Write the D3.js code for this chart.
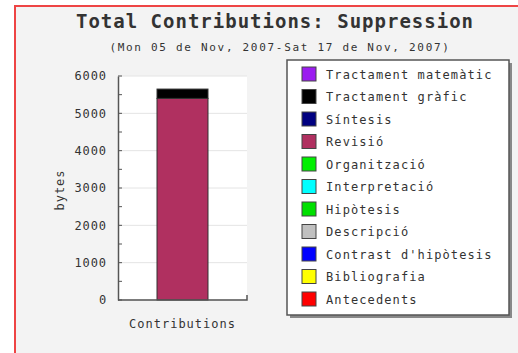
<!DOCTYPE html>
<html><head><meta charset="utf-8">
<script src="https://cdn.jsdelivr.net/npm/d3@7"></script>
<style>
body{margin:0;background:#fff;}
svg{display:block;}
text{font-family:"DejaVu Sans Mono",monospace;fill:#333;}
</style></head>
<body>
<script>
const title = "Total Contributions: Suppression";
const subtitle = "(Mon 05 de Nov, 2007-Sat 17 de Nov, 2007)";
const categories = ["Contributions"];
const seriesNames = ["Antecedents","Bibliografia","Contrast d'hipòtesis","Descripció","Hipòtesis","Interpretació","Organització","Revisió","Síntesis","Tractament gràfic","Tractament matemàtic"];
const seriesColors = ["#ff0000","#ffff00","#0000ff","#c0c0c0","#00e000","#00ffff","#00f000","#b03060","#000080","#000000","#9b1cf0"];
const seriesValues = [0,0,0,0,0,0,0,5400,0,250,0];
const yTicks = [0,1000,2000,3000,4000,5000,6000];
const yLabel = "bytes";

const W=518,H=353;
const svg=d3.select("body").append("svg").attr("width",W).attr("height",H);
// frame
svg.append("rect").attr("x",15).attr("y",6).attr("width",W+10).attr("height",H+10)
  .attr("fill","#f3f3f3").attr("stroke","#ee4444").attr("stroke-width",2);

svg.append("text").attr("x",275).attr("y",28).attr("text-anchor","middle")
  .style("font-size","19px").style("font-weight","bold").style("letter-spacing","1px").attr("fill","#222").text(title);
svg.append("text").attr("x",280).attr("y",51).attr("text-anchor","middle")
  .style("font-size","11px").style("letter-spacing","1.7px").text(subtitle);

const pl=118,pr=247,pt=76,pb=300;
const y=d3.scaleLinear().domain([0,6000]).range([pb,pt]);
const x=d3.scaleBand().domain(categories).range([pl,pr]).paddingInner(0).paddingOuter(0.765);

svg.append("rect").attr("x",pl).attr("y",pt).attr("width",pr-pl).attr("height",pb-pt).attr("fill","#fff");
// gridlines
svg.append("g").selectAll("line").data(yTicks).join("line")
  .attr("x1",pl).attr("x2",pr).attr("y1",d=>y(d)).attr("y2",d=>y(d))
  .attr("stroke","#e4e4e4").attr("stroke-width",1);

// stacked bar
const row={cat:categories[0]};
seriesNames.forEach((n,i)=>row[n]=seriesValues[i]);
const stack=d3.stack().keys(seriesNames)([row]);
svg.append("g").selectAll("rect").data(stack.filter(s=>s[0][1]-s[0][0]>0)).join("rect")
  .attr("x",x(categories[0])).attr("width",x.bandwidth())
  .attr("y",d=>y(d[0][1])).attr("height",d=>y(d[0][0])-y(d[0][1]))
  .attr("fill",d=>seriesColors[seriesNames.indexOf(d.key)])
  .attr("stroke","#333").attr("stroke-width",1);

// left axis
const ya=d3.axisLeft(y).tickValues(yTicks).tickSize(0).tickPadding(11).tickFormat(d3.format("d"));
const ga=svg.append("g").attr("transform",`translate(${pl},0)`).call(ya);
ga.select(".domain").attr("stroke","#555").attr("stroke-width",1.5);
ga.selectAll("text").style("font-size","12px").style("letter-spacing","0.9px").attr("fill","#333");
// minor inside ticks
svg.append("g").selectAll("line").data(d3.range(0,6001,500)).join("line")
  .attr("x1",pl).attr("x2",pl+4).attr("y1",d=>y(d)).attr("y2",d=>y(d))
  .attr("stroke","#555").attr("stroke-width",1);
// bottom axis
const xa=d3.axisBottom(x).tickSize(0).tickPadding(19);
const gx=svg.append("g").attr("transform",`translate(0,${pb})`).call(xa);
gx.select(".domain").attr("stroke","#555").attr("stroke-width",1.5).attr("d",`M${pl},0H${pr}V-5`);
gx.selectAll("text").style("font-size","12px").style("letter-spacing","1px").attr("fill","#333");

svg.append("text").attr("transform",`translate(64,190) rotate(-90)`).attr("text-anchor","middle")
  .style("font-size","12px").style("letter-spacing","1px").text(yLabel);

// legend
const lx=287,ly=60,lw=222,lh=255;
svg.append("rect").attr("x",lx+3).attr("y",ly+3).attr("width",lw).attr("height",lh).attr("fill","#888");
svg.append("rect").attr("x",lx).attr("y",ly).attr("width",lw).attr("height",lh).attr("fill","#fff").attr("stroke","#555").attr("stroke-width",1.5);
const legItems=seriesNames.map((n,i)=>({n,c:seriesColors[i]})).reverse();
const lg=svg.append("g").selectAll("g").data(legItems).join("g")
  .attr("transform",(d,i)=>`translate(${lx+15},${ly+14+i*22.5})`);
lg.append("rect").attr("x",0).attr("y",-7).attr("width",14).attr("height",14)
  .attr("fill",d=>d.c).attr("stroke","#444").attr("stroke-width",1);
lg.append("text").attr("x",24).attr("y",4.5).style("font-size","12px").style("letter-spacing","1.1px").text(d=>d.n);
</script>
</body></html>
